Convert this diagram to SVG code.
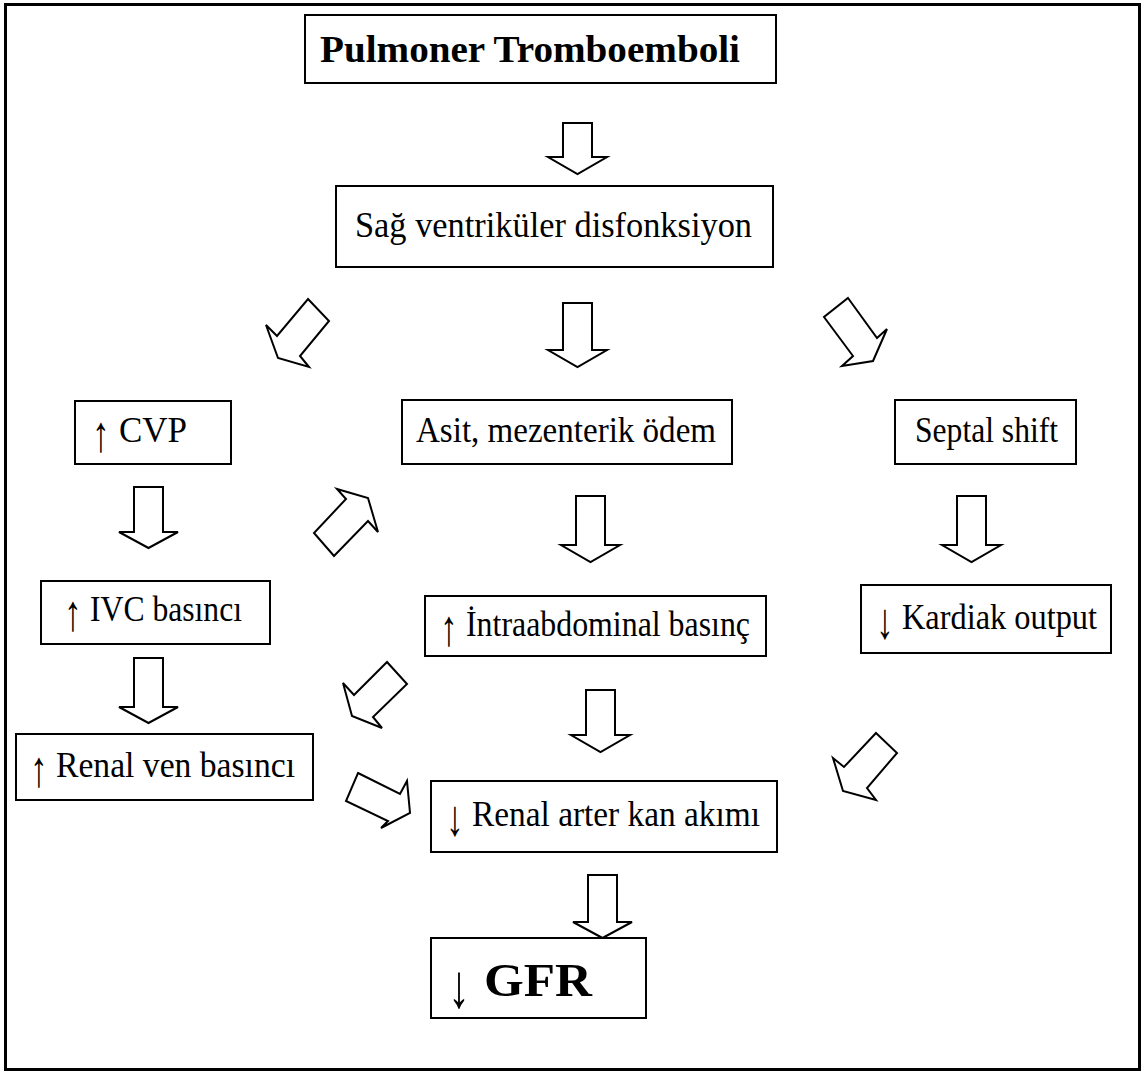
<svg xmlns="http://www.w3.org/2000/svg" width="1142" height="1073" viewBox="0 0 1142 1073">
<style>
.box{fill:#fff;stroke:#000;stroke-width:2}
.arr{fill:#fff;stroke:#000;stroke-width:2;stroke-linejoin:miter}
.t{font-family:"Liberation Serif","Times New Roman",serif;font-size:35px;fill:#000}
.b{font-weight:bold}
</style>
<rect x="5.5" y="4.5" width="1134" height="1065" fill="#fff" stroke="#000" stroke-width="3"/>
<g id="connectors">
<polygon class="arr" points="563,123 592,123 592,157 607,157 577.5,174 548,157 563,157"/>
<polygon class="arr" points="563,303 592,303 592,350 607,350 577.5,367 548,350 563,350"/>
<polygon class="arr" points="134,487 163,487 163,532 178,532 148.5,548 119,532 134,532"/>
<polygon class="arr" points="576,496 605,496 605,545 620,545 590.5,562 561,545 576,545"/>
<polygon class="arr" points="957,496 986,496 986,545 1001,545 971.5,562 942,545 957,545"/>
<polygon class="arr" points="134,658 163,658 163,707 178,707 148.5,723 119,707 134,707"/>
<polygon class="arr" points="586,690 615,690 615,735 630,735 600.5,752 571,735 586,735"/>
<polygon class="arr" points="588,875 617,875 617,922 632,922 602.5,938 573,922 588,922"/>
<polygon class="arr" points="308,299 329,321 300,356 309,367 278,358 266,325 277,336"/>
<polygon class="arr" points="848,298 877,338 887,329 873,361 842,366 853,356 824,317"/>
<polygon class="arr" points="337,489 368,498 378,532 368,521 334,556 314,533 346,499"/>
<polygon class="arr" points="387,662 407,684 373,717 382,728 352,716 343,683 354,695"/>
<polygon class="arr" points="358,773 400,794 407,781 410,813 381,828 388,821 346,801"/>
<polygon class="arr" points="876,733 897,753 867,788 876,800 843,791 833,758 844,767"/>
</g>
<g id="n1"><rect class="box" x="305" y="15" width="471" height="68"/><text class="t b" x="320" y="62" style="font-size:38px" textLength="420" lengthAdjust="spacingAndGlyphs">Pulmoner Tromboemboli</text></g>
<g id="n2"><rect class="box" x="336" y="186" width="437" height="81"/><text class="t" x="355" y="237" textLength="397" lengthAdjust="spacingAndGlyphs">Sağ ventriküler disfonksiyon</text></g>
<g id="n3"><rect class="box" x="75" y="401" width="156" height="63"/><text class="t" transform="translate(92,451) scale(1,1.45)">↑</text><text class="t" x="119" y="442">CVP</text></g>
<g id="n4"><rect class="box" x="402" y="400" width="330" height="64"/><text class="t" x="416" y="442" textLength="300" lengthAdjust="spacingAndGlyphs">Asit, mezenterik ödem</text></g>
<g id="n5"><rect class="box" x="895" y="400" width="181" height="64"/><text class="t" x="915" y="442" textLength="143" lengthAdjust="spacingAndGlyphs">Septal shift</text></g>
<g id="n6"><rect class="box" x="41" y="581" width="229" height="63"/><text class="t" transform="translate(64,630) scale(1,1.45)">↑</text><text class="t" x="90" y="621" textLength="152" lengthAdjust="spacingAndGlyphs">IVC basıncı</text></g>
<g id="n7"><rect class="box" x="425" y="596" width="341" height="60"/><text class="t" transform="translate(440,645) scale(1,1.45)">↑</text><text class="t" x="466" y="636" textLength="284" lengthAdjust="spacingAndGlyphs">İntraabdominal basınç</text></g>
<g id="n8"><rect class="box" x="861" y="585" width="250" height="68"/><text class="t" transform="translate(876,638) scale(1,1.45)">↓</text><text class="t" x="902" y="629" textLength="195" lengthAdjust="spacingAndGlyphs">Kardiak output</text></g>
<g id="n9"><rect class="box" x="16" y="734" width="297" height="66"/><text class="t" transform="translate(30,786) scale(1,1.45)">↑</text><text class="t" x="56" y="777" textLength="239" lengthAdjust="spacingAndGlyphs">Renal ven basıncı</text></g>
<g id="n10"><rect class="box" x="431" y="781" width="346" height="71"/><text class="t" transform="translate(446,835) scale(1,1.45)">↓</text><text class="t" x="472" y="826" textLength="288" lengthAdjust="spacingAndGlyphs">Renal arter kan akımı</text></g>
<g id="n11"><rect class="box" x="431" y="938" width="215" height="80"/><text class="t b" transform="translate(448,1007) scale(1,1.4)" style="font-size:44px">↓</text><text class="t b" x="484" y="996" style="font-size:46px" textLength="108" lengthAdjust="spacingAndGlyphs">GFR</text></g>
</svg>
